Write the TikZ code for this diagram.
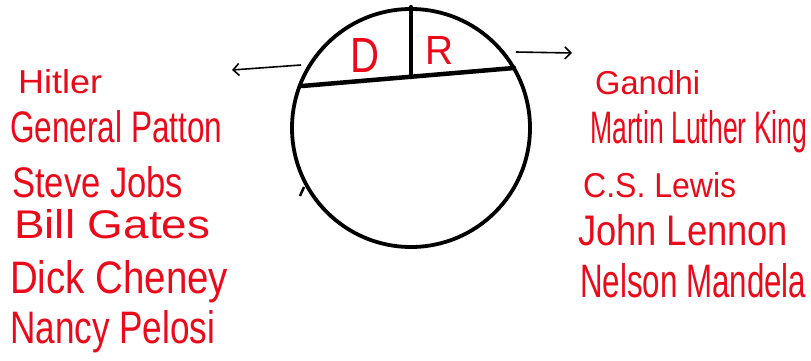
\documentclass[tikz,border=0pt]{standalone}
\usepackage{fontspec}
\setmainfont{Liberation Sans}
\usetikzlibrary{arrows.meta}
\definecolor{penred}{RGB}{235,10,25}
\newcommand{\fitwh}[3]{\resizebox{#1pt}{#2pt}{#3}}
\tikzset{
  pen/.style={line width=3.8pt, black, line cap=round},
  chord/.style={line width=4.5pt, black, line cap=round},
  arr/.style={line width=1.6pt, black, -{Straight Barb[length=6pt,width=12pt,line width=1.6pt]}},
  who/.style={text=penred, anchor=base west, inner sep=0pt, font=\fontsize{30}{30}\selectfont},
}
\begin{document}
\begin{tikzpicture}[x=1pt,y=-1pt]
\useasboundingbox (0,0) rectangle (811,361);
\fill[white] (0,0) rectangle (811,361);
% circle
\node[draw, circle, pen, minimum size=238pt, inner sep=0pt] (c) at (411,128) {};
\coordinate (chl) at (302,86);
\coordinate (chr) at (514,68);
\coordinate (chm) at (411,77);
\draw[chord] (chl) -- (chr);
\draw[chord] (c.north) -- (chm);
\draw[line width=2.5pt] (300,196) -- (304,187);
\node[who] (d) at (350,72) {\fitwh{29}{34}{D}};
\node[who] (r) at (425,65) {\fitwh{28}{28}{R}};
% arrows
\coordinate (al) at (301,65);
\coordinate (alt) at (232,70);
\coordinate (ar) at (516,52);
\coordinate (art) at (572,53);
\draw[arr] (al) -- (alt);
\draw[arr] (ar) -- (art);
% left list
\node[who] (h1) at (18,93) {\fitwh{84}{24}{Hitler}};
\node[who] (h2) at (10,142) {\fitwh{212}{32}{General Patton}};
\node[who] (h3) at (12,197) {\fitwh{171}{31}{Steve Jobs}};
\node[who] (h4) at (14,238) {\fitwh{196}{29}{Bill Gates}};
\node[who] (h5) at (10,293) {\fitwh{218}{33}{Dick Cheney}};
\node[who] (h6) at (10,343) {\fitwh{205}{33}{Nancy Pelosi}};
% right list
\node[who] (g1) at (595,95) {\fitwh{105}{24}{Gandhi}};
\node[who] (g2) at (590,143) {\fitwh{217}{33}{Martin Luther King}};
\node[who] (g3) at (583,197) {\fitwh{153}{25}{C.S. Lewis}};
\node[who] (g4) at (578,245) {\fitwh{210}{31}{John Lennon}};
\node[who] (g5) at (580,297) {\fitwh{226}{34}{Nelson Mandela}};
\end{tikzpicture}
\end{document}
